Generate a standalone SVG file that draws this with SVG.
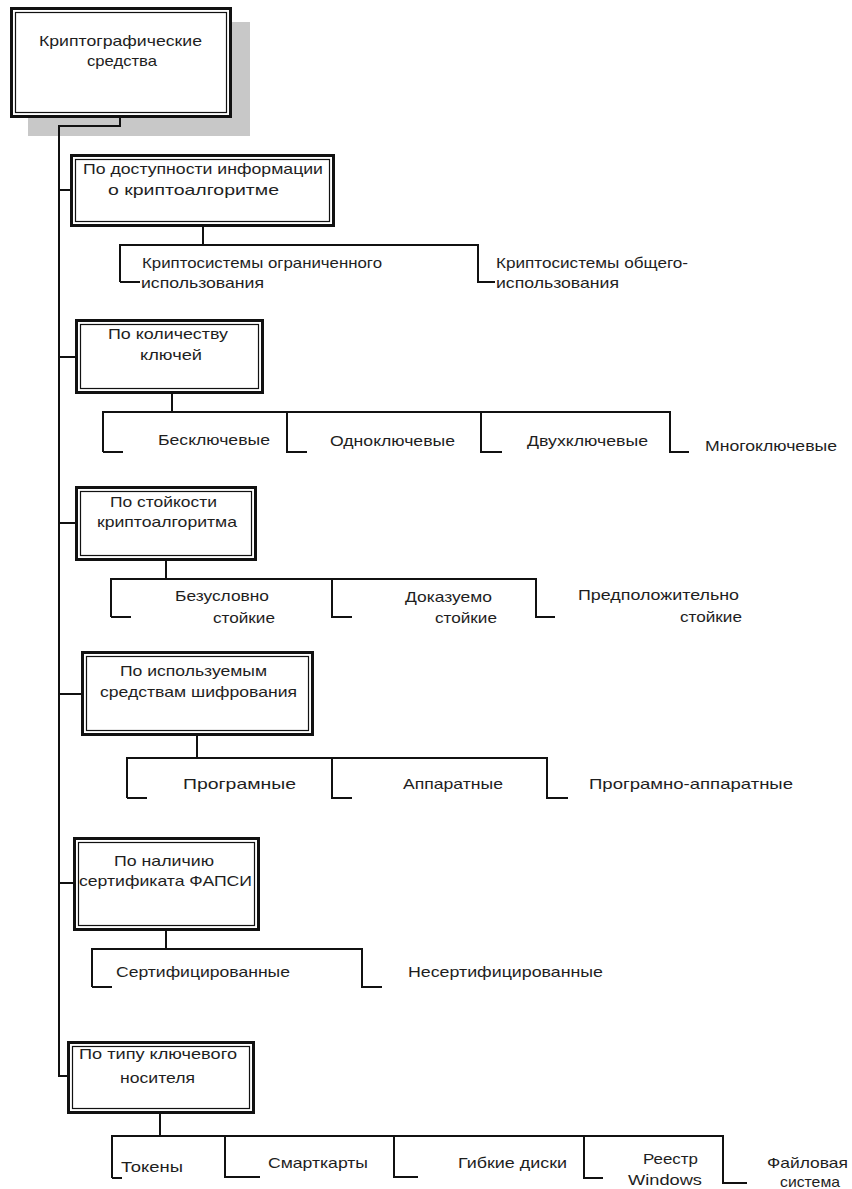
<svg xmlns="http://www.w3.org/2000/svg" width="852" height="1189" viewBox="0 0 852 1189">
<style>
.o{fill:#fff;stroke:#111;stroke-width:3}
.i{fill:none;stroke:#111;stroke-width:1.2}
.c{fill:none;stroke:#111;stroke-width:2}
text{font-family:"Liberation Sans",Arial,sans-serif;font-size:15px;fill:#1e1e1e}
</style>
<rect width="852" height="1189" fill="#fff"/>
<rect x="28" y="22" width="222" height="114" fill="#c8c8c8"/>
<g id="connectors">
<path class="c" d="M120 118V126H59V1076H67"/>
<path class="c" d="M59 190H70M59 357H75M59 523H75M59 694H81M59 883H73"/>
<path class="c" d="M203 227V245M120 282V245H478V282H495M120 282H140"/>
<path class="c" d="M172 394V412M103 452V412H670V452H689M103 452H123M287 412V452H307M481 412V452H502"/>
<path class="c" d="M166 561V579M111 617V579H536V617H555M111 617H131M332 579V617H352"/>
<path class="c" d="M197 736V758M127 798V758H547V798H568M127 798H147M332 758V798H352"/>
<path class="c" d="M166 931V949M92 987V949H362V987H382M92 987H112"/>
<path class="c" d="M160 1114V1136M112 1178V1136H723V1183H747M112 1178H122M225 1136V1177H260M394 1136V1177H418M584 1136V1178H603"/>
</g>
<g id="n1">
<rect class="o" x="11.5" y="8.5" width="219" height="108"/>
<rect class="i" x="15.5" y="12.5" width="211" height="100"/>
<text x="39" y="46" textLength="163" lengthAdjust="spacingAndGlyphs">Криптографические</text>
<text x="87" y="66" textLength="70" lengthAdjust="spacingAndGlyphs">средства</text>
</g>
<g id="n2">
<rect class="o" x="71.5" y="155.5" width="262" height="70"/>
<rect class="i" x="75.5" y="159.5" width="254" height="62"/>
<text x="83" y="174" textLength="240" lengthAdjust="spacingAndGlyphs">По доступности информации</text>
<text x="108" y="195" textLength="171" lengthAdjust="spacingAndGlyphs">о криптоалгоритме</text>
</g>
<g id="n2a">
<text x="142" y="268" textLength="240" lengthAdjust="spacingAndGlyphs">Криптосистемы ограниченного</text>
<text x="141" y="288" textLength="123" lengthAdjust="spacingAndGlyphs">использования</text>
</g>
<g id="n2b">
<text x="496" y="268" textLength="192" lengthAdjust="spacingAndGlyphs">Криптосистемы общего-</text>
<text x="496" y="288" textLength="123" lengthAdjust="spacingAndGlyphs">использования</text>
</g>
<g id="n3">
<rect class="o" x="76.5" y="320.5" width="186" height="72"/>
<rect class="i" x="80.5" y="324.5" width="178" height="64"/>
<text x="108" y="339" textLength="120" lengthAdjust="spacingAndGlyphs">По количеству</text>
<text x="140" y="360" textLength="62" lengthAdjust="spacingAndGlyphs">ключей</text>
</g>
<g id="n3a"><text x="158" y="445" textLength="112" lengthAdjust="spacingAndGlyphs">Бесключевые</text></g>
<g id="n3b"><text x="330" y="446" textLength="125" lengthAdjust="spacingAndGlyphs">Одноключевые</text></g>
<g id="n3c"><text x="527" y="446" textLength="121" lengthAdjust="spacingAndGlyphs">Двухключевые</text></g>
<g id="n3d"><text x="705" y="451" textLength="132" lengthAdjust="spacingAndGlyphs">Многоключевые</text></g>
<g id="n4">
<rect class="o" x="76.5" y="487.5" width="179" height="72"/>
<rect class="i" x="80.5" y="491.5" width="171" height="64"/>
<text x="110" y="507" textLength="107" lengthAdjust="spacingAndGlyphs">По стойкости</text>
<text x="97" y="527" textLength="140" lengthAdjust="spacingAndGlyphs">криптоалгоритма</text>
</g>
<g id="n4a">
<text x="175" y="601" textLength="94" lengthAdjust="spacingAndGlyphs">Безусловно</text>
<text x="213" y="623" textLength="62" lengthAdjust="spacingAndGlyphs">стойкие</text>
</g>
<g id="n4b">
<text x="405" y="602" textLength="87" lengthAdjust="spacingAndGlyphs">Доказуемо</text>
<text x="435" y="623" textLength="62" lengthAdjust="spacingAndGlyphs">стойкие</text>
</g>
<g id="n4c">
<text x="578" y="600" textLength="161" lengthAdjust="spacingAndGlyphs">Предположительно</text>
<text x="680" y="622" textLength="62" lengthAdjust="spacingAndGlyphs">стойкие</text>
</g>
<g id="n5">
<rect class="o" x="82.5" y="652.5" width="230" height="82"/>
<rect class="i" x="86.5" y="656.5" width="222" height="74"/>
<text x="120" y="676" textLength="147" lengthAdjust="spacingAndGlyphs">По используемым</text>
<text x="100" y="697" textLength="197" lengthAdjust="spacingAndGlyphs">средствам шифрования</text>
</g>
<g id="n5a"><text x="183" y="789" textLength="113" lengthAdjust="spacingAndGlyphs">Програмные</text></g>
<g id="n5b"><text x="403" y="789" textLength="100" lengthAdjust="spacingAndGlyphs">Аппаратные</text></g>
<g id="n5c"><text x="589" y="789" textLength="204" lengthAdjust="spacingAndGlyphs">Програмно-аппаратные</text></g>
<g id="n6">
<rect class="o" x="74.5" y="838.5" width="184" height="91"/>
<rect class="i" x="78.5" y="842.5" width="176" height="83"/>
<text x="114" y="866" textLength="100" lengthAdjust="spacingAndGlyphs">По наличию</text>
<text x="79" y="886" textLength="173" lengthAdjust="spacingAndGlyphs">сертификата ФАПСИ</text>
</g>
<g id="n6a"><text x="116" y="977" textLength="174" lengthAdjust="spacingAndGlyphs">Сертифицированные</text></g>
<g id="n6b"><text x="408" y="977" textLength="195" lengthAdjust="spacingAndGlyphs">Несертифицированные</text></g>
<g id="n7">
<rect class="o" x="68.5" y="1042.5" width="185" height="70"/>
<rect class="i" x="72.5" y="1046.5" width="177" height="62"/>
<text x="79" y="1059" textLength="158" lengthAdjust="spacingAndGlyphs">По типу ключевого</text>
<text x="120" y="1083" textLength="75" lengthAdjust="spacingAndGlyphs">носителя</text>
</g>
<g id="n7a"><text x="121" y="1172" textLength="62" lengthAdjust="spacingAndGlyphs">Токены</text></g>
<g id="n7b"><text x="268" y="1168" textLength="100" lengthAdjust="spacingAndGlyphs">Смарткарты</text></g>
<g id="n7c"><text x="458" y="1168" textLength="109" lengthAdjust="spacingAndGlyphs">Гибкие диски</text></g>
<g id="n7d">
<text x="643" y="1164" textLength="55" lengthAdjust="spacingAndGlyphs">Реестр</text>
<text x="628" y="1185" textLength="74" lengthAdjust="spacingAndGlyphs">Windows</text>
</g>
<g id="n7e">
<text x="767" y="1168" textLength="81" lengthAdjust="spacingAndGlyphs">Файловая</text>
<text x="780" y="1187" textLength="60" lengthAdjust="spacingAndGlyphs">система</text>
</g>
</svg>
